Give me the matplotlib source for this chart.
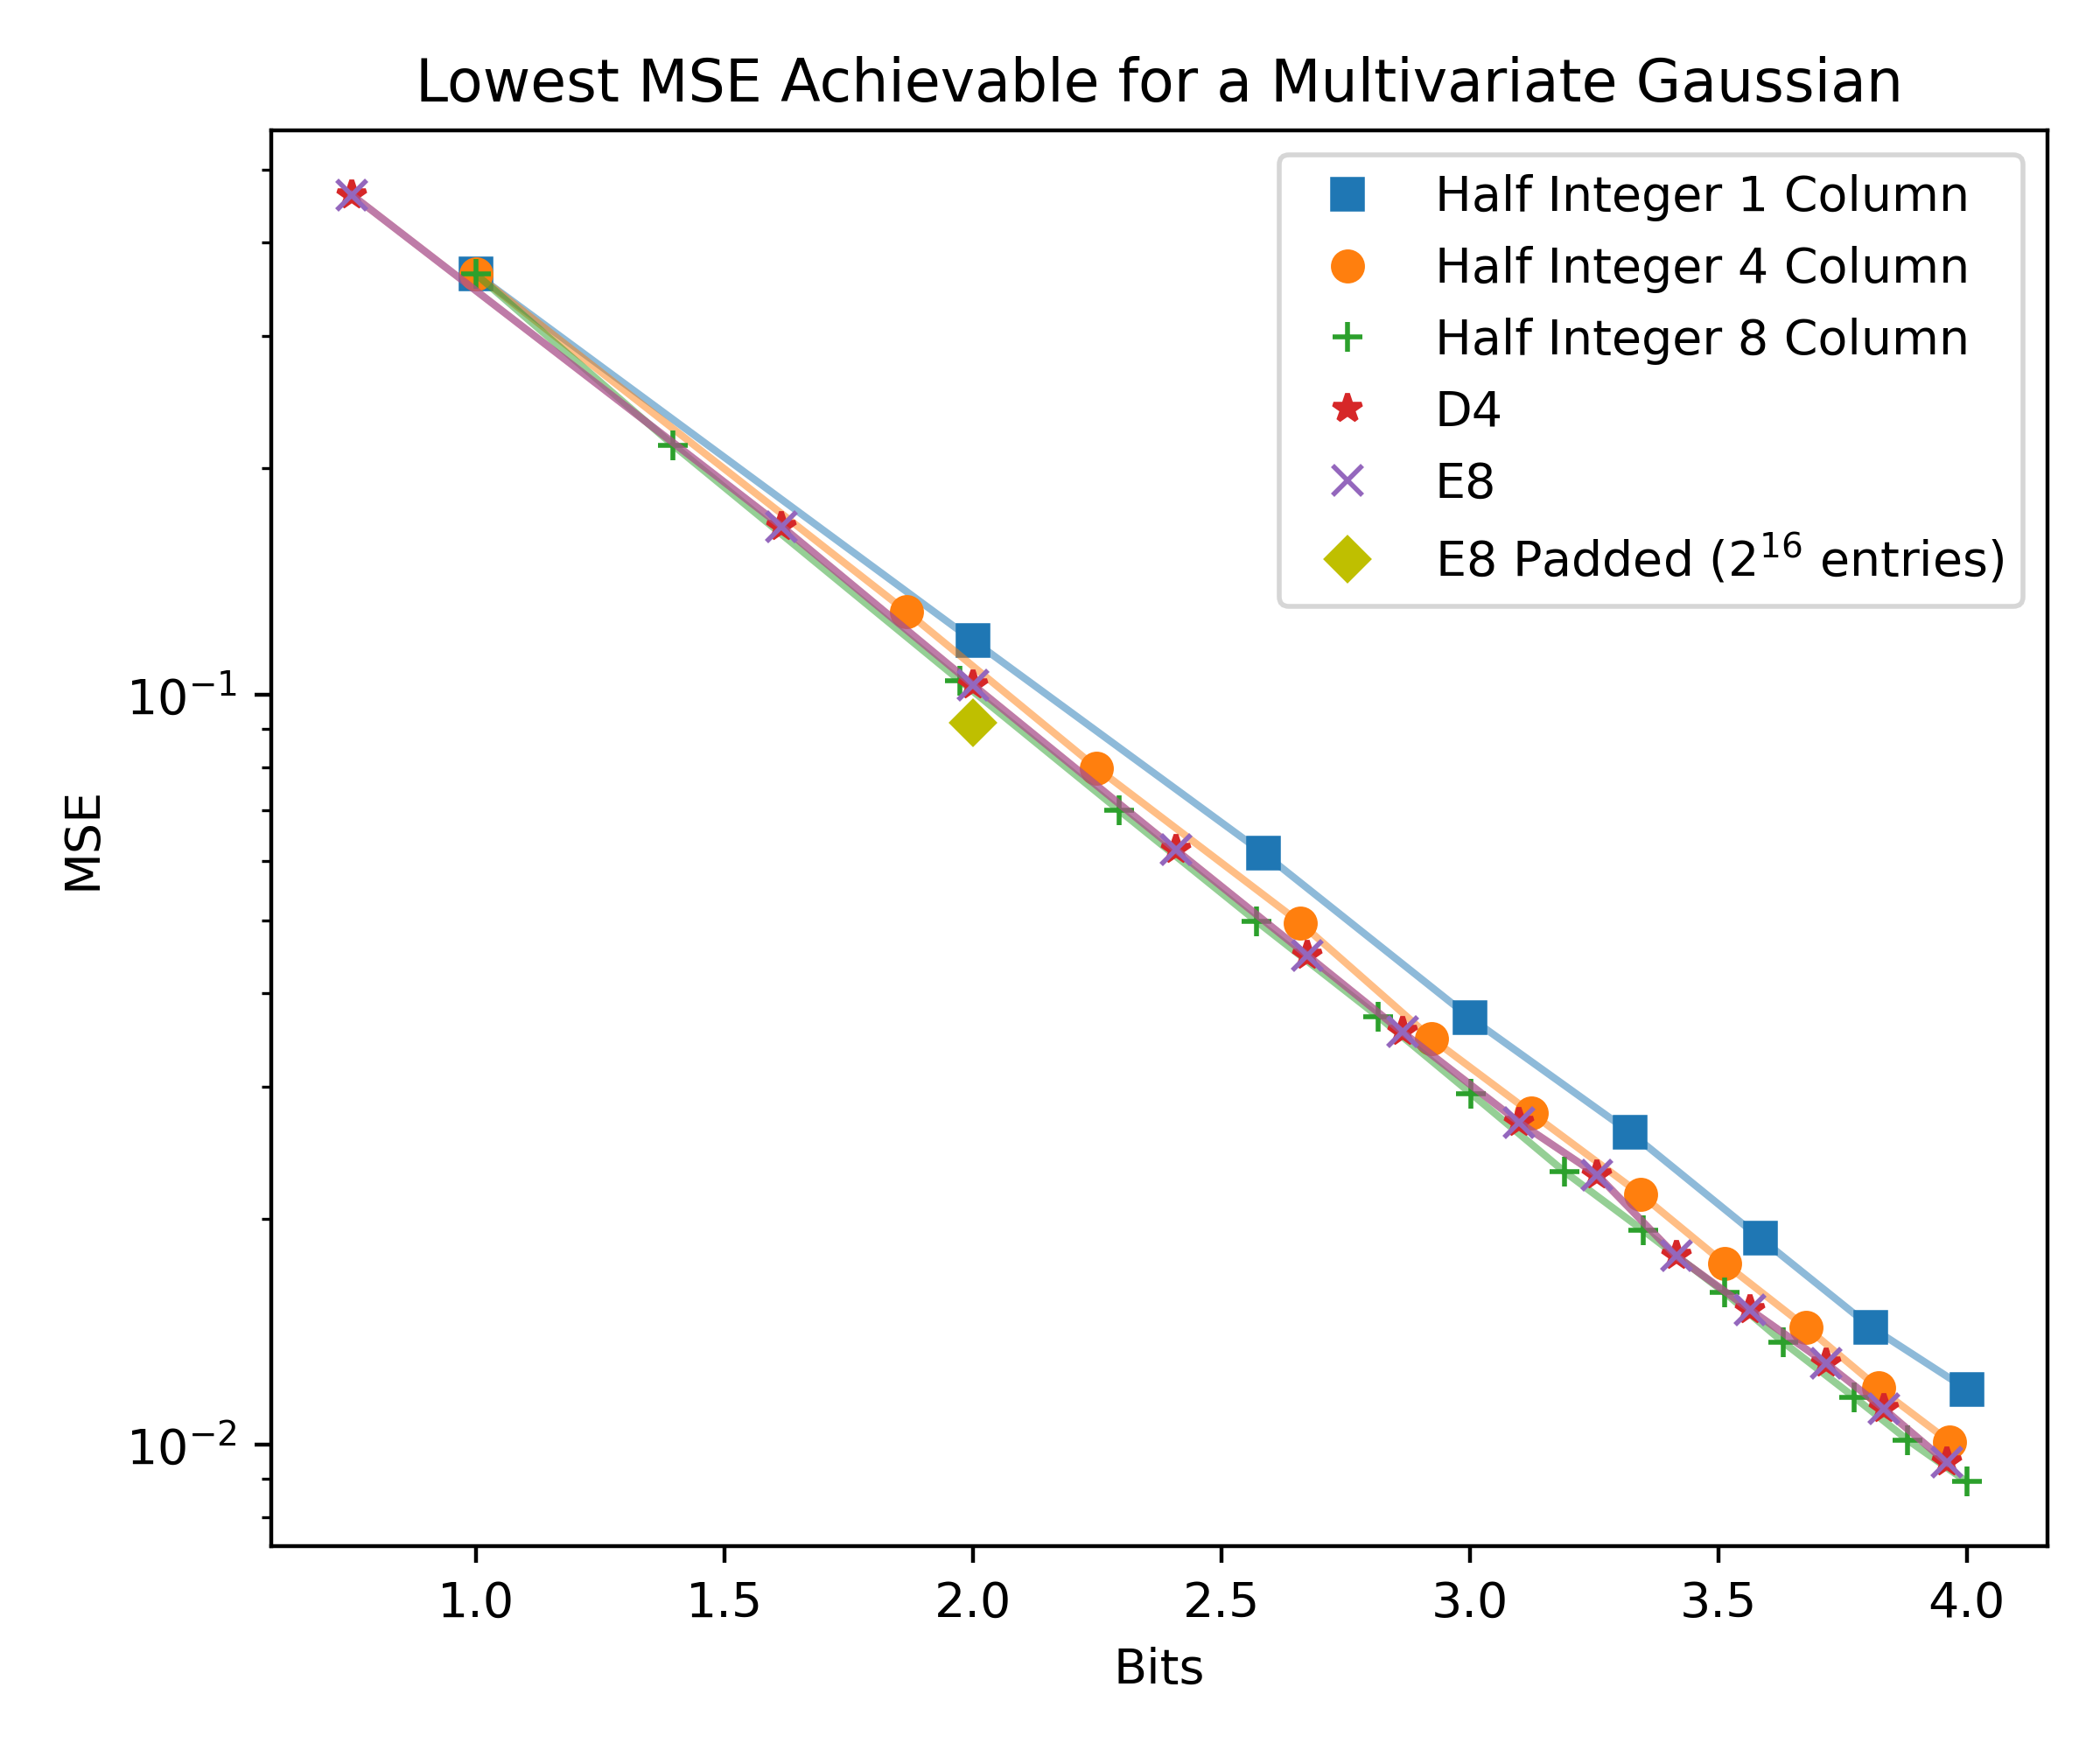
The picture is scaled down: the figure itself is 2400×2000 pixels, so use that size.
import numpy as np
import matplotlib
matplotlib.use("Agg")
import matplotlib.pyplot as plt

# Half Integer 1 Column
bits_h1 = [1.0, 2.0, 2.585, 3.0, 3.322, 3.585, 3.807, 4.0]
mse_h1 = [0.363, 0.118, 0.0614, 0.0371, 0.0261, 0.01884, 0.01435, 0.01186]

# Half Integer 4 Column
bits_h4 = [1.0, 1.866, 2.249, 2.659, 2.923, 3.123, 3.344, 3.512, 3.677, 3.822, 3.965]
mse_h4 = [0.363, 0.129, 0.0798, 0.0496, 0.0348, 0.0277, 0.02156, 0.01746, 0.01434, 0.01191, 0.0101]

# Half Integer 8 Column
bits_h8 = [1.0, 1.396, 1.974, 2.295, 2.570, 2.816, 3.002, 3.191, 3.349, 3.512, 3.630, 3.773, 3.881, 4.0]
mse_h8 = [0.363, 0.215, 0.1043, 0.0700, 0.0499, 0.0372, 0.0294, 0.0231, 0.0193, 0.01597, 0.01371, 0.01158, 0.01015, 0.00893]

# D4
bits_d4 = [0.75, 1.615, 2.0, 2.408, 2.673, 2.864, 3.099, 3.256, 3.415, 3.564, 3.717, 3.833, 3.960]
mse_d4 = [0.463, 0.1675, 0.103, 0.0621, 0.0449, 0.0355, 0.0269, 0.0229, 0.01785, 0.01514, 0.01284, 0.01117, 0.00947]

# E8
bits_e8 = [0.75, 1.615, 2.0, 2.408, 2.673, 2.864, 3.099, 3.256, 3.415, 3.564, 3.717, 3.833, 3.960]
mse_e8 = [0.463, 0.1675, 0.103, 0.0621, 0.0449, 0.0355, 0.0269, 0.0229, 0.01785, 0.01514, 0.01284, 0.01117, 0.00947]

# E8 Padded
bits_e8p = [2.0]
mse_e8p = [0.0918]

plt.figure(figsize=(6, 5))

series = [
    (bits_h1, mse_h1, 's', 'C0', 'Half Integer 1 Column'),
    (bits_h4, mse_h4, 'o', 'C1', 'Half Integer 4 Column'),
    (bits_h8, mse_h8, '+', 'C2', 'Half Integer 8 Column'),
    (bits_d4, mse_d4, '*', 'C3', 'D4'),
    (bits_e8, mse_e8, 'x', 'C4', 'E8'),
]
for x, y, m, c, name in series:
    plt.plot(x, y, m, color=c, label=name)
    plt.plot(x, y, color=c, alpha=0.5)

plt.plot(bits_e8p, mse_e8p, 'D', color='y', label='E8 Padded ($2^{16}$ entries)')

plt.yscale('log')
plt.xlabel('Bits')
plt.ylabel('MSE')
plt.title('Lowest MSE Achievable for a Multivariate Gaussian')
plt.legend()
plt.tight_layout()
plt.savefig('out.png', dpi=400)
